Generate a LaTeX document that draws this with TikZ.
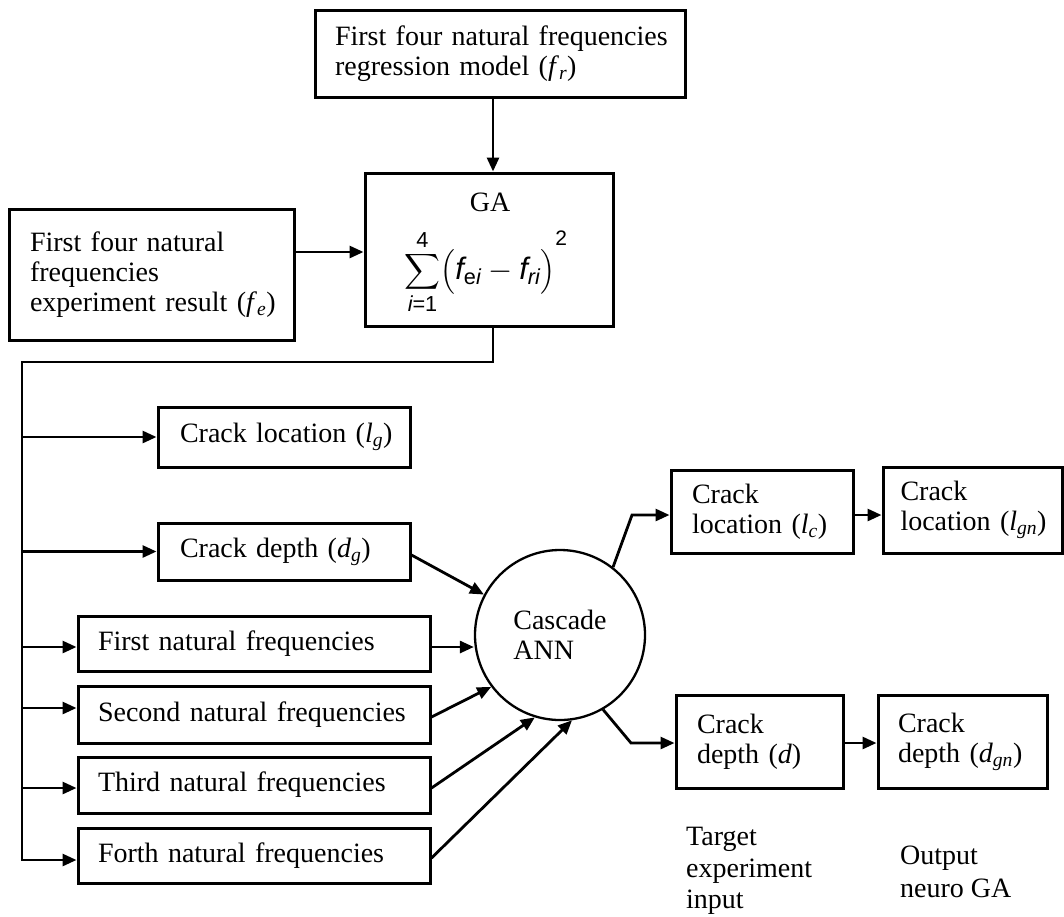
\RequirePackage{fix-cm}
\documentclass[tikz,border=0pt]{standalone}
\usepackage{amsmath}
\usepackage{fontspec}
\setmainfont{Liberation Serif}
\newfontfamily\fsans{Liberation Sans}
\usetikzlibrary{arrows.meta,calc}
\newcommand{\sv}[1]{\text{\fsans\itshape #1}}
\newcommand{\su}[1]{\text{\fsans #1}}
\newcommand{\ivar}[2]{\textit{#1}\textsubscript{\textit{#2}}}
\begin{document}
\begin{tikzpicture}[x=1pt,y=-1pt, font=\fontsize{28}{30}\selectfont,
 bx/.style={draw, line width=3pt, align=left, inner ysep=0pt, inner xsep=20pt, rectangle},
 arr/.style={-{Triangle[length=14pt,width=12pt]}, line width=2.8pt},
 ln/.style={line width=2.8pt}]
\useasboundingbox (0,0) rectangle (1064,916);

% boxes
\node[bx, text width=330pt, minimum height=87pt] (top) at (500,53.5) {\mbox{First four natural frequencies}\\\mbox{regression model (\ivar{f}{r})}};
\node[bx, minimum width=248pt, minimum height=153pt] (GA) at (489,249.5) {};
\node[inner sep=0pt] (gat) at (490,202) {GA};
\node[inner sep=0pt, font=\fontsize{31}{31}\selectfont] (gaf) at (486,272) {$\displaystyle\sum_{\sv{i}\su{=1}}^{\su{4}}\bigl(\sv{f}_{\su{e}\sv{i}}-\sv{f}_{\sv{ri}}\bigr)^{\raisebox{13pt}{\fontsize{21}{21}\selectfont\fsans 2}}$};
\node[bx, inner xsep=21pt, text width=243pt, minimum height=131pt] (left) at (151.5,274.5) {\mbox{First four natural}\\\mbox{frequencies}\\\mbox{experiment result (\ivar{f}{e})}};

\node[bx, inner xsep=22pt, text width=208pt, minimum height=60pt] (lg) at (284,437) {\mbox{Crack location (\ivar{l}{g})}};
\node[bx, inner xsep=22pt, text width=208pt, minimum height=57pt] (dg) at (284,551.5) {\mbox{Crack depth (\ivar{d}{g})}};
\node[bx, text width=312pt, minimum height=55pt] (first) at (254,643.5) {\mbox{First natural frequencies}};
\node[bx, text width=312pt, minimum height=57pt] (second) at (254,714.5) {\mbox{Second natural frequencies}};
\node[bx, text width=312pt, minimum height=56pt] (third) at (254,785) {\mbox{Third natural frequencies}};
\node[bx, text width=312pt, minimum height=55pt] (forth) at (254,855.5) {\mbox{Forth natural frequencies}};

\node[draw, circle, line width=2.3pt, minimum size=170pt, inner sep=0pt, align=left] (ann) at (560,635) {Cascade\\ANN};

\node[bx, inner xsep=21pt, text width=140pt, minimum height=83pt] (lc) at (762,511.5) {\mbox{Crack}\\\mbox{location (\ivar{l}{c})}};
\node[bx, inner xsep=17.5pt, text width=144pt, minimum height=86pt] (lgn) at (972.5,510) {\mbox{Crack}\\\mbox{location (\ivar{l}{gn})}};
\node[bx, inner xsep=21pt, text width=125pt, minimum height=93pt] (d) at (759.5,741.5) {\mbox{Crack}\\\mbox{depth (\textit{d})}};
\node[bx, inner xsep=20pt, text width=129pt, minimum height=93pt] (dgn) at (962.5,741.5) {\mbox{Crack}\\\mbox{depth (\ivar{d}{gn})}};

\node[align=left, anchor=west, inner sep=0pt, font=\fontsize{28}{31.5}\selectfont] (tgt) at (686,871) {Target\\experiment\\input};
\node[align=left, anchor=west, inner sep=0pt, font=\fontsize{28}{33}\selectfont] (outl) at (900,872) {Output\\neuro GA};

% connectors
\coordinate (cx1) at (493,0);
\draw[arr] (top.south -| cx1) -- (GA.north -| cx1);
\coordinate (cy1) at (0,252);
\draw[arr] (left.east |- cy1) -- (GA.west |- cy1);
\coordinate (jA) at (493,362);
\coordinate (jB) at (22,362);
\coordinate (jC) at (22,860);
\draw[arr] (GA.south -| jA) -- (jA) -- (jB) -- (jC) -- (forth.west |- jC);
\draw[arr] (jB |- lg.west) -- (lg.west);
\draw[arr] (jB |- dg.west) -- (dg.west);
\coordinate (y1) at (0,647);
\coordinate (y2) at (0,708);
\coordinate (y3) at (0,788);
\draw[arr] (jB |- y1) -- (first.west |- y1);
\draw[arr] (jB |- y2) -- (second.west |- y2);
\draw[arr] (jB |- y3) -- (third.west |- y3);

\coordinate (r1) at (0,555);
\coordinate (r2) at (0,717);
\coordinate (r3) at (0,788);
\coordinate (r4) at (0,858);
\draw[arr] (dg.east |- r1) -- (ann.152);
\draw[arr] (first.east |- y1) -- (ann.west |- y1);
\draw[arr] (second.east |- r2) -- (ann.217);
\draw[arr] (third.east |- r3) -- (ann.253);
\draw[arr] (forth.east |- r4) -- (ann.278);

\coordinate (b1) at (632,515);
\draw[arr] (ann.52) -- (b1) -- (lc.west |- b1);
\draw[arr] (lc.east |- b1) -- (lgn.west |- b1);
\coordinate (b2) at (631,743);
\draw[arr] (ann.300) -- (b2) -- (d.west |- b2);
\draw[arr] (d.east |- b2) -- (dgn.west |- b2);
\end{tikzpicture}
\end{document}
